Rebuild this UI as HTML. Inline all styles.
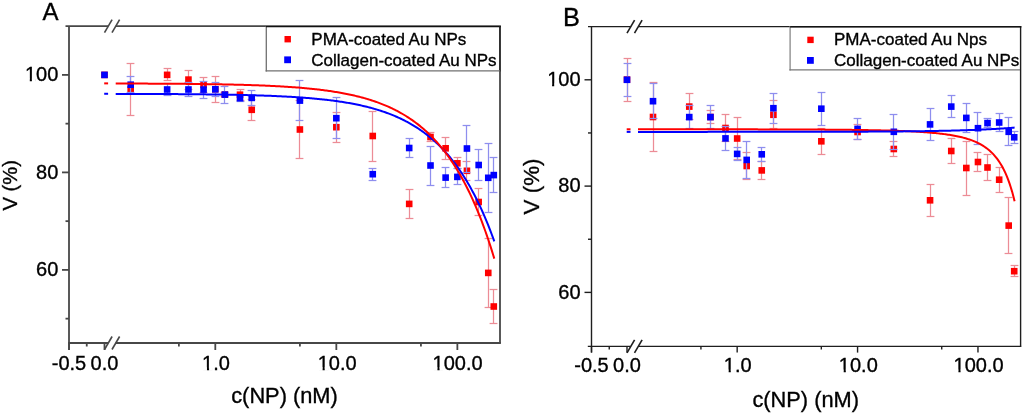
<!DOCTYPE html>
<html><head><meta charset="utf-8"><style>
html,body{margin:0;padding:0;background:#fff;overflow:hidden;width:1024px;height:414px;}
svg{display:block;}
text{font-family:"Liberation Sans",sans-serif;fill:#000;stroke:#000;stroke-width:0.35px;}
.gt{filter:grayscale(1);}
</style></head><body>
<svg width="1024" height="414" viewBox="0 0 1024 414">
<rect width="1024" height="414" fill="#fff"/>
<g font-family="Liberation Sans, sans-serif" fill="#000">
<line x1="65.50" y1="26.10" x2="108.10" y2="26.10" stroke="#474747" stroke-width="1.8" stroke-linecap="butt"/>
<line x1="115.70" y1="26.10" x2="500.90" y2="26.10" stroke="#474747" stroke-width="1.8" stroke-linecap="butt"/>
<line x1="68.10" y1="343.00" x2="108.10" y2="343.00" stroke="#474747" stroke-width="1.8" stroke-linecap="butt"/>
<line x1="115.70" y1="343.00" x2="500.90" y2="343.00" stroke="#474747" stroke-width="1.8" stroke-linecap="butt"/>
<line x1="69.00" y1="26.10" x2="69.00" y2="350.00" stroke="#474747" stroke-width="1.8" stroke-linecap="butt"/>
<line x1="500.00" y1="26.10" x2="500.00" y2="343.00" stroke="#474747" stroke-width="1.8" stroke-linecap="butt"/>
<line x1="62.00" y1="269.90" x2="69.00" y2="269.90" stroke="#474747" stroke-width="1.8" stroke-linecap="butt"/>
<line x1="62.00" y1="172.40" x2="69.00" y2="172.40" stroke="#474747" stroke-width="1.8" stroke-linecap="butt"/>
<line x1="62.00" y1="74.90" x2="69.00" y2="74.90" stroke="#474747" stroke-width="1.8" stroke-linecap="butt"/>
<line x1="65.50" y1="318.65" x2="69.00" y2="318.65" stroke="#474747" stroke-width="1.8" stroke-linecap="butt"/>
<line x1="65.50" y1="221.15" x2="69.00" y2="221.15" stroke="#474747" stroke-width="1.8" stroke-linecap="butt"/>
<line x1="65.50" y1="123.65" x2="69.00" y2="123.65" stroke="#474747" stroke-width="1.8" stroke-linecap="butt"/>
<line x1="69.00" y1="343.00" x2="69.00" y2="350.00" stroke="#474747" stroke-width="1.8" stroke-linecap="butt"/>
<line x1="104.50" y1="343.00" x2="104.50" y2="350.00" stroke="#474747" stroke-width="1.8" stroke-linecap="butt"/>
<line x1="215.30" y1="343.00" x2="215.30" y2="350.00" stroke="#474747" stroke-width="1.8" stroke-linecap="butt"/>
<line x1="336.33" y1="343.00" x2="336.33" y2="350.00" stroke="#474747" stroke-width="1.8" stroke-linecap="butt"/>
<line x1="457.36" y1="343.00" x2="457.36" y2="350.00" stroke="#474747" stroke-width="1.8" stroke-linecap="butt"/>
<line x1="86.75" y1="343.00" x2="86.75" y2="346.50" stroke="#474747" stroke-width="1.8" stroke-linecap="butt"/>
<line x1="178.87" y1="343.00" x2="178.87" y2="346.50" stroke="#474747" stroke-width="1.8" stroke-linecap="butt"/>
<line x1="299.90" y1="343.00" x2="299.90" y2="346.50" stroke="#474747" stroke-width="1.8" stroke-linecap="butt"/>
<line x1="420.93" y1="343.00" x2="420.93" y2="346.50" stroke="#474747" stroke-width="1.8" stroke-linecap="butt"/>
<line x1="104.50" y1="32.60" x2="112.10" y2="19.60" stroke="#474747" stroke-width="1.6" stroke-linecap="butt"/>
<line x1="112.00" y1="32.60" x2="119.60" y2="19.60" stroke="#474747" stroke-width="1.6" stroke-linecap="butt"/>
<line x1="104.50" y1="349.50" x2="112.10" y2="336.50" stroke="#474747" stroke-width="1.6" stroke-linecap="butt"/>
<line x1="112.00" y1="349.50" x2="119.60" y2="336.50" stroke="#474747" stroke-width="1.6" stroke-linecap="butt"/>
<line x1="130.50" y1="63.50" x2="130.50" y2="115.50" stroke="#ec8c96" stroke-width="1.25" stroke-linecap="butt"/>
<line x1="126.60" y1="63.50" x2="134.40" y2="63.50" stroke="#ec8c96" stroke-width="1.25" stroke-linecap="butt"/>
<line x1="126.60" y1="115.50" x2="134.40" y2="115.50" stroke="#ec8c96" stroke-width="1.25" stroke-linecap="butt"/>
<line x1="167.50" y1="68.50" x2="167.50" y2="80.50" stroke="#ec8c96" stroke-width="1.25" stroke-linecap="butt"/>
<line x1="163.60" y1="68.50" x2="171.40" y2="68.50" stroke="#ec8c96" stroke-width="1.25" stroke-linecap="butt"/>
<line x1="163.60" y1="80.50" x2="171.40" y2="80.50" stroke="#ec8c96" stroke-width="1.25" stroke-linecap="butt"/>
<line x1="188.50" y1="70.50" x2="188.50" y2="89.50" stroke="#ec8c96" stroke-width="1.25" stroke-linecap="butt"/>
<line x1="184.60" y1="70.50" x2="192.40" y2="70.50" stroke="#ec8c96" stroke-width="1.25" stroke-linecap="butt"/>
<line x1="184.60" y1="89.50" x2="192.40" y2="89.50" stroke="#ec8c96" stroke-width="1.25" stroke-linecap="butt"/>
<line x1="203.50" y1="77.50" x2="203.50" y2="92.50" stroke="#ec8c96" stroke-width="1.25" stroke-linecap="butt"/>
<line x1="199.60" y1="77.50" x2="207.40" y2="77.50" stroke="#ec8c96" stroke-width="1.25" stroke-linecap="butt"/>
<line x1="199.60" y1="92.50" x2="207.40" y2="92.50" stroke="#ec8c96" stroke-width="1.25" stroke-linecap="butt"/>
<line x1="215.50" y1="76.50" x2="215.50" y2="102.50" stroke="#ec8c96" stroke-width="1.25" stroke-linecap="butt"/>
<line x1="211.60" y1="76.50" x2="219.40" y2="76.50" stroke="#ec8c96" stroke-width="1.25" stroke-linecap="butt"/>
<line x1="211.60" y1="102.50" x2="219.40" y2="102.50" stroke="#ec8c96" stroke-width="1.25" stroke-linecap="butt"/>
<line x1="224.50" y1="92.50" x2="224.50" y2="96.50" stroke="#ec8c96" stroke-width="1.25" stroke-linecap="butt"/>
<line x1="220.60" y1="92.50" x2="228.40" y2="92.50" stroke="#ec8c96" stroke-width="1.25" stroke-linecap="butt"/>
<line x1="220.60" y1="96.50" x2="228.40" y2="96.50" stroke="#ec8c96" stroke-width="1.25" stroke-linecap="butt"/>
<line x1="240.50" y1="89.50" x2="240.50" y2="100.50" stroke="#ec8c96" stroke-width="1.25" stroke-linecap="butt"/>
<line x1="236.60" y1="89.50" x2="244.40" y2="89.50" stroke="#ec8c96" stroke-width="1.25" stroke-linecap="butt"/>
<line x1="236.60" y1="100.50" x2="244.40" y2="100.50" stroke="#ec8c96" stroke-width="1.25" stroke-linecap="butt"/>
<line x1="251.50" y1="99.50" x2="251.50" y2="120.50" stroke="#ec8c96" stroke-width="1.25" stroke-linecap="butt"/>
<line x1="247.60" y1="99.50" x2="255.40" y2="99.50" stroke="#ec8c96" stroke-width="1.25" stroke-linecap="butt"/>
<line x1="247.60" y1="120.50" x2="255.40" y2="120.50" stroke="#ec8c96" stroke-width="1.25" stroke-linecap="butt"/>
<line x1="299.50" y1="100.50" x2="299.50" y2="158.50" stroke="#ec8c96" stroke-width="1.25" stroke-linecap="butt"/>
<line x1="295.60" y1="100.50" x2="303.40" y2="100.50" stroke="#ec8c96" stroke-width="1.25" stroke-linecap="butt"/>
<line x1="295.60" y1="158.50" x2="303.40" y2="158.50" stroke="#ec8c96" stroke-width="1.25" stroke-linecap="butt"/>
<line x1="336.50" y1="112.50" x2="336.50" y2="142.50" stroke="#ec8c96" stroke-width="1.25" stroke-linecap="butt"/>
<line x1="332.60" y1="112.50" x2="340.40" y2="112.50" stroke="#ec8c96" stroke-width="1.25" stroke-linecap="butt"/>
<line x1="332.60" y1="142.50" x2="340.40" y2="142.50" stroke="#ec8c96" stroke-width="1.25" stroke-linecap="butt"/>
<line x1="372.50" y1="111.50" x2="372.50" y2="161.50" stroke="#ec8c96" stroke-width="1.25" stroke-linecap="butt"/>
<line x1="368.60" y1="111.50" x2="376.40" y2="111.50" stroke="#ec8c96" stroke-width="1.25" stroke-linecap="butt"/>
<line x1="368.60" y1="161.50" x2="376.40" y2="161.50" stroke="#ec8c96" stroke-width="1.25" stroke-linecap="butt"/>
<line x1="409.50" y1="189.50" x2="409.50" y2="218.50" stroke="#ec8c96" stroke-width="1.25" stroke-linecap="butt"/>
<line x1="405.60" y1="189.50" x2="413.40" y2="189.50" stroke="#ec8c96" stroke-width="1.25" stroke-linecap="butt"/>
<line x1="405.60" y1="218.50" x2="413.40" y2="218.50" stroke="#ec8c96" stroke-width="1.25" stroke-linecap="butt"/>
<line x1="430.50" y1="132.50" x2="430.50" y2="141.50" stroke="#ec8c96" stroke-width="1.25" stroke-linecap="butt"/>
<line x1="426.60" y1="132.50" x2="434.40" y2="132.50" stroke="#ec8c96" stroke-width="1.25" stroke-linecap="butt"/>
<line x1="426.60" y1="141.50" x2="434.40" y2="141.50" stroke="#ec8c96" stroke-width="1.25" stroke-linecap="butt"/>
<line x1="445.50" y1="137.50" x2="445.50" y2="159.50" stroke="#ec8c96" stroke-width="1.25" stroke-linecap="butt"/>
<line x1="441.60" y1="137.50" x2="449.40" y2="137.50" stroke="#ec8c96" stroke-width="1.25" stroke-linecap="butt"/>
<line x1="441.60" y1="159.50" x2="449.40" y2="159.50" stroke="#ec8c96" stroke-width="1.25" stroke-linecap="butt"/>
<line x1="457.50" y1="157.50" x2="457.50" y2="168.50" stroke="#ec8c96" stroke-width="1.25" stroke-linecap="butt"/>
<line x1="453.60" y1="157.50" x2="461.40" y2="157.50" stroke="#ec8c96" stroke-width="1.25" stroke-linecap="butt"/>
<line x1="453.60" y1="168.50" x2="461.40" y2="168.50" stroke="#ec8c96" stroke-width="1.25" stroke-linecap="butt"/>
<line x1="466.50" y1="161.50" x2="466.50" y2="180.50" stroke="#ec8c96" stroke-width="1.25" stroke-linecap="butt"/>
<line x1="462.60" y1="161.50" x2="470.40" y2="161.50" stroke="#ec8c96" stroke-width="1.25" stroke-linecap="butt"/>
<line x1="462.60" y1="180.50" x2="470.40" y2="180.50" stroke="#ec8c96" stroke-width="1.25" stroke-linecap="butt"/>
<line x1="478.50" y1="188.50" x2="478.50" y2="215.50" stroke="#ec8c96" stroke-width="1.25" stroke-linecap="butt"/>
<line x1="474.60" y1="188.50" x2="482.40" y2="188.50" stroke="#ec8c96" stroke-width="1.25" stroke-linecap="butt"/>
<line x1="474.60" y1="215.50" x2="482.40" y2="215.50" stroke="#ec8c96" stroke-width="1.25" stroke-linecap="butt"/>
<line x1="488.50" y1="238.50" x2="488.50" y2="307.50" stroke="#ec8c96" stroke-width="1.25" stroke-linecap="butt"/>
<line x1="484.60" y1="238.50" x2="492.40" y2="238.50" stroke="#ec8c96" stroke-width="1.25" stroke-linecap="butt"/>
<line x1="484.60" y1="307.50" x2="492.40" y2="307.50" stroke="#ec8c96" stroke-width="1.25" stroke-linecap="butt"/>
<line x1="493.50" y1="289.50" x2="493.50" y2="323.50" stroke="#ec8c96" stroke-width="1.25" stroke-linecap="butt"/>
<line x1="489.60" y1="289.50" x2="497.40" y2="289.50" stroke="#ec8c96" stroke-width="1.25" stroke-linecap="butt"/>
<line x1="489.60" y1="323.50" x2="497.40" y2="323.50" stroke="#ec8c96" stroke-width="1.25" stroke-linecap="butt"/>
<rect x="101.20" y="71.60" width="6.60" height="6.60" fill="#ff0000"/>
<rect x="127.40" y="86.10" width="6.60" height="6.60" fill="#ff0000"/>
<rect x="163.84" y="71.55" width="6.60" height="6.60" fill="#ff0000"/>
<rect x="185.15" y="76.30" width="6.60" height="6.60" fill="#ff0000"/>
<rect x="200.27" y="81.50" width="6.60" height="6.60" fill="#ff0000"/>
<rect x="212.00" y="86.00" width="6.60" height="6.60" fill="#ff0000"/>
<rect x="221.58" y="91.30" width="6.60" height="6.60" fill="#ff0000"/>
<rect x="236.70" y="91.40" width="6.60" height="6.60" fill="#ff0000"/>
<rect x="248.43" y="106.50" width="6.60" height="6.60" fill="#ff0000"/>
<rect x="296.60" y="126.20" width="6.60" height="6.60" fill="#ff0000"/>
<rect x="333.03" y="123.90" width="6.60" height="6.60" fill="#ff0000"/>
<rect x="369.46" y="132.70" width="6.60" height="6.60" fill="#ff0000"/>
<rect x="405.90" y="200.60" width="6.60" height="6.60" fill="#ff0000"/>
<rect x="427.21" y="133.70" width="6.60" height="6.60" fill="#ff0000"/>
<rect x="442.33" y="145.00" width="6.60" height="6.60" fill="#ff0000"/>
<rect x="454.06" y="160.00" width="6.60" height="6.60" fill="#ff0000"/>
<rect x="463.64" y="167.50" width="6.60" height="6.60" fill="#ff0000"/>
<rect x="475.37" y="198.70" width="6.60" height="6.60" fill="#ff0000"/>
<rect x="484.96" y="269.60" width="6.60" height="6.60" fill="#ff0000"/>
<rect x="490.49" y="303.20" width="6.60" height="6.60" fill="#ff0000"/>
<line x1="130.50" y1="76.50" x2="130.50" y2="92.50" stroke="#8e8eee" stroke-width="1.25" stroke-linecap="butt"/>
<line x1="126.60" y1="76.50" x2="134.40" y2="76.50" stroke="#8e8eee" stroke-width="1.25" stroke-linecap="butt"/>
<line x1="126.60" y1="92.50" x2="134.40" y2="92.50" stroke="#8e8eee" stroke-width="1.25" stroke-linecap="butt"/>
<line x1="167.50" y1="83.50" x2="167.50" y2="95.50" stroke="#8e8eee" stroke-width="1.25" stroke-linecap="butt"/>
<line x1="163.60" y1="83.50" x2="171.40" y2="83.50" stroke="#8e8eee" stroke-width="1.25" stroke-linecap="butt"/>
<line x1="163.60" y1="95.50" x2="171.40" y2="95.50" stroke="#8e8eee" stroke-width="1.25" stroke-linecap="butt"/>
<line x1="188.50" y1="82.50" x2="188.50" y2="96.50" stroke="#8e8eee" stroke-width="1.25" stroke-linecap="butt"/>
<line x1="184.60" y1="82.50" x2="192.40" y2="82.50" stroke="#8e8eee" stroke-width="1.25" stroke-linecap="butt"/>
<line x1="184.60" y1="96.50" x2="192.40" y2="96.50" stroke="#8e8eee" stroke-width="1.25" stroke-linecap="butt"/>
<line x1="203.50" y1="81.50" x2="203.50" y2="98.50" stroke="#8e8eee" stroke-width="1.25" stroke-linecap="butt"/>
<line x1="199.60" y1="81.50" x2="207.40" y2="81.50" stroke="#8e8eee" stroke-width="1.25" stroke-linecap="butt"/>
<line x1="199.60" y1="98.50" x2="207.40" y2="98.50" stroke="#8e8eee" stroke-width="1.25" stroke-linecap="butt"/>
<line x1="215.50" y1="82.50" x2="215.50" y2="96.50" stroke="#8e8eee" stroke-width="1.25" stroke-linecap="butt"/>
<line x1="211.60" y1="82.50" x2="219.40" y2="82.50" stroke="#8e8eee" stroke-width="1.25" stroke-linecap="butt"/>
<line x1="211.60" y1="96.50" x2="219.40" y2="96.50" stroke="#8e8eee" stroke-width="1.25" stroke-linecap="butt"/>
<line x1="224.50" y1="86.50" x2="224.50" y2="103.50" stroke="#8e8eee" stroke-width="1.25" stroke-linecap="butt"/>
<line x1="220.60" y1="86.50" x2="228.40" y2="86.50" stroke="#8e8eee" stroke-width="1.25" stroke-linecap="butt"/>
<line x1="220.60" y1="103.50" x2="228.40" y2="103.50" stroke="#8e8eee" stroke-width="1.25" stroke-linecap="butt"/>
<line x1="240.50" y1="95.50" x2="240.50" y2="101.50" stroke="#8e8eee" stroke-width="1.25" stroke-linecap="butt"/>
<line x1="236.60" y1="95.50" x2="244.40" y2="95.50" stroke="#8e8eee" stroke-width="1.25" stroke-linecap="butt"/>
<line x1="236.60" y1="101.50" x2="244.40" y2="101.50" stroke="#8e8eee" stroke-width="1.25" stroke-linecap="butt"/>
<line x1="251.50" y1="90.50" x2="251.50" y2="105.50" stroke="#8e8eee" stroke-width="1.25" stroke-linecap="butt"/>
<line x1="247.60" y1="90.50" x2="255.40" y2="90.50" stroke="#8e8eee" stroke-width="1.25" stroke-linecap="butt"/>
<line x1="247.60" y1="105.50" x2="255.40" y2="105.50" stroke="#8e8eee" stroke-width="1.25" stroke-linecap="butt"/>
<line x1="299.50" y1="80.50" x2="299.50" y2="120.50" stroke="#8e8eee" stroke-width="1.25" stroke-linecap="butt"/>
<line x1="295.60" y1="80.50" x2="303.40" y2="80.50" stroke="#8e8eee" stroke-width="1.25" stroke-linecap="butt"/>
<line x1="295.60" y1="120.50" x2="303.40" y2="120.50" stroke="#8e8eee" stroke-width="1.25" stroke-linecap="butt"/>
<line x1="336.50" y1="97.50" x2="336.50" y2="138.50" stroke="#8e8eee" stroke-width="1.25" stroke-linecap="butt"/>
<line x1="332.60" y1="97.50" x2="340.40" y2="97.50" stroke="#8e8eee" stroke-width="1.25" stroke-linecap="butt"/>
<line x1="332.60" y1="138.50" x2="340.40" y2="138.50" stroke="#8e8eee" stroke-width="1.25" stroke-linecap="butt"/>
<line x1="372.50" y1="168.50" x2="372.50" y2="180.50" stroke="#8e8eee" stroke-width="1.25" stroke-linecap="butt"/>
<line x1="368.60" y1="168.50" x2="376.40" y2="168.50" stroke="#8e8eee" stroke-width="1.25" stroke-linecap="butt"/>
<line x1="368.60" y1="180.50" x2="376.40" y2="180.50" stroke="#8e8eee" stroke-width="1.25" stroke-linecap="butt"/>
<line x1="409.50" y1="138.50" x2="409.50" y2="157.50" stroke="#8e8eee" stroke-width="1.25" stroke-linecap="butt"/>
<line x1="405.60" y1="138.50" x2="413.40" y2="138.50" stroke="#8e8eee" stroke-width="1.25" stroke-linecap="butt"/>
<line x1="405.60" y1="157.50" x2="413.40" y2="157.50" stroke="#8e8eee" stroke-width="1.25" stroke-linecap="butt"/>
<line x1="430.50" y1="146.50" x2="430.50" y2="185.50" stroke="#8e8eee" stroke-width="1.25" stroke-linecap="butt"/>
<line x1="426.60" y1="146.50" x2="434.40" y2="146.50" stroke="#8e8eee" stroke-width="1.25" stroke-linecap="butt"/>
<line x1="426.60" y1="185.50" x2="434.40" y2="185.50" stroke="#8e8eee" stroke-width="1.25" stroke-linecap="butt"/>
<line x1="445.50" y1="167.50" x2="445.50" y2="187.50" stroke="#8e8eee" stroke-width="1.25" stroke-linecap="butt"/>
<line x1="441.60" y1="167.50" x2="449.40" y2="167.50" stroke="#8e8eee" stroke-width="1.25" stroke-linecap="butt"/>
<line x1="441.60" y1="187.50" x2="449.40" y2="187.50" stroke="#8e8eee" stroke-width="1.25" stroke-linecap="butt"/>
<line x1="457.50" y1="168.50" x2="457.50" y2="184.50" stroke="#8e8eee" stroke-width="1.25" stroke-linecap="butt"/>
<line x1="453.60" y1="168.50" x2="461.40" y2="168.50" stroke="#8e8eee" stroke-width="1.25" stroke-linecap="butt"/>
<line x1="453.60" y1="184.50" x2="461.40" y2="184.50" stroke="#8e8eee" stroke-width="1.25" stroke-linecap="butt"/>
<line x1="466.50" y1="125.50" x2="466.50" y2="172.50" stroke="#8e8eee" stroke-width="1.25" stroke-linecap="butt"/>
<line x1="462.60" y1="125.50" x2="470.40" y2="125.50" stroke="#8e8eee" stroke-width="1.25" stroke-linecap="butt"/>
<line x1="462.60" y1="172.50" x2="470.40" y2="172.50" stroke="#8e8eee" stroke-width="1.25" stroke-linecap="butt"/>
<line x1="478.50" y1="149.50" x2="478.50" y2="180.50" stroke="#8e8eee" stroke-width="1.25" stroke-linecap="butt"/>
<line x1="474.60" y1="149.50" x2="482.40" y2="149.50" stroke="#8e8eee" stroke-width="1.25" stroke-linecap="butt"/>
<line x1="474.60" y1="180.50" x2="482.40" y2="180.50" stroke="#8e8eee" stroke-width="1.25" stroke-linecap="butt"/>
<line x1="488.50" y1="143.50" x2="488.50" y2="212.50" stroke="#8e8eee" stroke-width="1.25" stroke-linecap="butt"/>
<line x1="484.60" y1="143.50" x2="492.40" y2="143.50" stroke="#8e8eee" stroke-width="1.25" stroke-linecap="butt"/>
<line x1="484.60" y1="212.50" x2="492.40" y2="212.50" stroke="#8e8eee" stroke-width="1.25" stroke-linecap="butt"/>
<line x1="493.50" y1="157.50" x2="493.50" y2="192.50" stroke="#8e8eee" stroke-width="1.25" stroke-linecap="butt"/>
<line x1="489.60" y1="157.50" x2="497.40" y2="157.50" stroke="#8e8eee" stroke-width="1.25" stroke-linecap="butt"/>
<line x1="489.60" y1="192.50" x2="497.40" y2="192.50" stroke="#8e8eee" stroke-width="1.25" stroke-linecap="butt"/>
<rect x="101.20" y="71.60" width="6.60" height="6.60" fill="#0000ff"/>
<rect x="127.40" y="81.40" width="6.60" height="6.60" fill="#0000ff"/>
<rect x="163.84" y="86.20" width="6.60" height="6.60" fill="#0000ff"/>
<rect x="185.15" y="86.20" width="6.60" height="6.60" fill="#0000ff"/>
<rect x="200.27" y="86.30" width="6.60" height="6.60" fill="#0000ff"/>
<rect x="212.00" y="86.00" width="6.60" height="6.60" fill="#0000ff"/>
<rect x="221.58" y="91.30" width="6.60" height="6.60" fill="#0000ff"/>
<rect x="236.70" y="94.90" width="6.60" height="6.60" fill="#0000ff"/>
<rect x="248.43" y="94.60" width="6.60" height="6.60" fill="#0000ff"/>
<rect x="296.60" y="97.30" width="6.60" height="6.60" fill="#0000ff"/>
<rect x="333.03" y="114.90" width="6.60" height="6.60" fill="#0000ff"/>
<rect x="369.46" y="170.90" width="6.60" height="6.60" fill="#0000ff"/>
<rect x="405.90" y="144.70" width="6.60" height="6.60" fill="#0000ff"/>
<rect x="427.21" y="162.20" width="6.60" height="6.60" fill="#0000ff"/>
<rect x="442.33" y="174.30" width="6.60" height="6.60" fill="#0000ff"/>
<rect x="454.06" y="173.60" width="6.60" height="6.60" fill="#0000ff"/>
<rect x="463.64" y="145.20" width="6.60" height="6.60" fill="#0000ff"/>
<rect x="475.37" y="161.70" width="6.60" height="6.60" fill="#0000ff"/>
<rect x="484.96" y="174.50" width="6.60" height="6.60" fill="#0000ff"/>
<rect x="490.49" y="171.80" width="6.60" height="6.60" fill="#0000ff"/>
<line x1="104.20" y1="93.77" x2="108.10" y2="93.77" stroke="#0000ff" stroke-width="2" stroke-linecap="butt"/>
<polyline points="115.70,93.88 116.96,93.88 118.22,93.88 119.49,93.88 120.75,93.89 122.01,93.89 123.27,93.89 124.53,93.90 125.80,93.90 127.06,93.90 128.32,93.91 129.58,93.91 130.84,93.91 132.11,93.92 133.37,93.92 134.63,93.92 135.89,93.93 137.15,93.93 138.42,93.94 139.68,93.94 140.94,93.94 142.20,93.95 143.46,93.95 144.73,93.96 145.99,93.96 147.25,93.97 148.51,93.97 149.77,93.98 151.04,93.98 152.30,93.99 153.56,93.99 154.82,94.00 156.08,94.00 157.35,94.01 158.61,94.01 159.87,94.02 161.13,94.03 162.39,94.03 163.66,94.04 164.92,94.05 166.18,94.05 167.44,94.06 168.70,94.07 169.97,94.07 171.23,94.08 172.49,94.09 173.75,94.10 175.01,94.11 176.28,94.11 177.54,94.12 178.80,94.13 180.06,94.14 181.32,94.15 182.59,94.16 183.85,94.17 185.11,94.18 186.37,94.19 187.63,94.20 188.90,94.21 190.16,94.22 191.42,94.23 192.68,94.24 193.94,94.25 195.21,94.27 196.47,94.28 197.73,94.29 198.99,94.30 200.25,94.32 201.52,94.33 202.78,94.34 204.04,94.36 205.30,94.37 206.56,94.39 207.83,94.40 209.09,94.42 210.35,94.43 211.61,94.45 212.87,94.46 214.14,94.48 215.40,94.50 216.66,94.52 217.92,94.53 219.18,94.55 220.45,94.57 221.71,94.59 222.97,94.61 224.23,94.63 225.49,94.65 226.76,94.68 228.02,94.70 229.28,94.72 230.54,94.74 231.80,94.77 233.07,94.79 234.33,94.82 235.59,94.84 236.85,94.87 238.11,94.89 239.38,94.92 240.64,94.95 241.90,94.98 243.16,95.01 244.42,95.04 245.69,95.07 246.95,95.10 248.21,95.13 249.47,95.17 250.73,95.20 252.00,95.24 253.26,95.27 254.52,95.31 255.78,95.35 257.04,95.38 258.31,95.42 259.57,95.46 260.83,95.51 262.09,95.55 263.35,95.59 264.62,95.63 265.88,95.68 267.14,95.73 268.40,95.77 269.66,95.82 270.93,95.87 272.19,95.92 273.45,95.98 274.71,96.03 275.97,96.09 277.24,96.14 278.50,96.20 279.76,96.26 281.02,96.32 282.28,96.38 283.55,96.45 284.81,96.51 286.07,96.58 287.33,96.65 288.59,96.72 289.86,96.79 291.12,96.86 292.38,96.94 293.64,97.01 294.90,97.09 296.17,97.17 297.43,97.25 298.69,97.34 299.95,97.43 301.21,97.52 302.48,97.61 303.74,97.70 305.00,97.80 306.26,97.89 307.52,97.99 308.79,98.10 310.05,98.20 311.31,98.31 312.57,98.42 313.83,98.53 315.10,98.65 316.36,98.77 317.62,98.89 318.88,99.01 320.14,99.14 321.41,99.27 322.67,99.41 323.93,99.54 325.19,99.68 326.45,99.83 327.72,99.97 328.98,100.12 330.24,100.28 331.50,100.44 332.76,100.60 334.03,100.77 335.29,100.94 336.55,101.11 337.81,101.29 339.07,101.47 340.34,101.66 341.60,101.85 342.86,102.05 344.12,102.25 345.38,102.45 346.65,102.66 347.91,102.88 349.17,103.10 350.43,103.33 351.69,103.56 352.96,103.80 354.22,104.04 355.48,104.29 356.74,104.55 358.00,104.81 359.27,105.08 360.53,105.35 361.79,105.64 363.05,105.92 364.31,106.22 365.58,106.52 366.84,106.83 368.10,107.15 369.36,107.47 370.62,107.81 371.89,108.15 373.15,108.50 374.41,108.86 375.67,109.22 376.93,109.60 378.20,109.98 379.46,110.38 380.72,110.78 381.98,111.19 383.24,111.62 384.51,112.05 385.77,112.50 387.03,112.95 388.29,113.42 389.55,113.90 390.82,114.38 392.08,114.89 393.34,115.40 394.60,115.92 395.86,116.46 397.13,117.01 398.39,117.58 399.65,118.16 400.91,118.75 402.17,119.36 403.44,119.98 404.70,120.62 405.96,121.27 407.22,121.94 408.48,122.62 409.75,123.32 411.01,124.04 412.27,124.78 413.53,125.53 414.79,126.30 416.06,127.09 417.32,127.90 418.58,128.73 419.84,129.58 421.10,130.45 422.37,131.34 423.63,132.26 424.89,133.19 426.15,134.15 427.41,135.13 428.68,136.14 429.94,137.17 431.20,138.22 432.46,139.30 433.72,140.41 434.99,141.54 436.25,142.70 437.51,143.89 438.77,145.11 440.03,146.36 441.30,147.64 442.56,148.94 443.82,150.29 445.08,151.66 446.34,153.07 447.61,154.51 448.87,155.98 450.13,157.49 451.39,159.04 452.65,160.63 453.92,162.25 455.18,163.92 456.44,165.62 457.70,167.37 458.96,169.16 460.23,170.99 461.49,172.87 462.75,174.79 464.01,176.76 465.27,178.77 466.54,180.84 467.80,182.95 469.06,185.12 470.32,187.34 471.58,189.62 472.85,191.95 474.11,194.33 475.37,196.77 476.63,199.28 477.89,201.84 479.16,204.47 480.42,207.16 481.68,209.91 482.94,212.74 484.20,215.63 485.47,218.59 486.73,221.62 487.99,224.73 489.25,227.91 490.51,231.17 491.78,234.51 493.04,237.93 494.30,241.43" fill="none" stroke="#0000ff" stroke-width="2"/>
<line x1="104.20" y1="83.38" x2="108.10" y2="83.38" stroke="#ff0000" stroke-width="2" stroke-linecap="butt"/>
<polyline points="115.70,83.51 116.96,83.52 118.22,83.52 119.49,83.52 120.75,83.53 122.01,83.53 123.27,83.53 124.53,83.54 125.80,83.54 127.06,83.54 128.32,83.55 129.58,83.55 130.84,83.56 132.11,83.56 133.37,83.57 134.63,83.57 135.89,83.57 137.15,83.58 138.42,83.58 139.68,83.59 140.94,83.59 142.20,83.60 143.46,83.60 144.73,83.61 145.99,83.61 147.25,83.62 148.51,83.63 149.77,83.63 151.04,83.64 152.30,83.64 153.56,83.65 154.82,83.66 156.08,83.66 157.35,83.67 158.61,83.68 159.87,83.68 161.13,83.69 162.39,83.70 163.66,83.71 164.92,83.72 166.18,83.72 167.44,83.73 168.70,83.74 169.97,83.75 171.23,83.76 172.49,83.77 173.75,83.78 175.01,83.79 176.28,83.80 177.54,83.81 178.80,83.82 180.06,83.83 181.32,83.84 182.59,83.85 183.85,83.86 185.11,83.87 186.37,83.88 187.63,83.90 188.90,83.91 190.16,83.92 191.42,83.93 192.68,83.95 193.94,83.96 195.21,83.97 196.47,83.99 197.73,84.00 198.99,84.02 200.25,84.03 201.52,84.05 202.78,84.07 204.04,84.08 205.30,84.10 206.56,84.12 207.83,84.14 209.09,84.15 210.35,84.17 211.61,84.19 212.87,84.21 214.14,84.23 215.40,84.25 216.66,84.27 217.92,84.29 219.18,84.32 220.45,84.34 221.71,84.36 222.97,84.39 224.23,84.41 225.49,84.44 226.76,84.46 228.02,84.49 229.28,84.51 230.54,84.54 231.80,84.57 233.07,84.60 234.33,84.63 235.59,84.66 236.85,84.69 238.11,84.72 239.38,84.75 240.64,84.79 241.90,84.82 243.16,84.86 244.42,84.89 245.69,84.93 246.95,84.97 248.21,85.01 249.47,85.04 250.73,85.09 252.00,85.13 253.26,85.17 254.52,85.21 255.78,85.26 257.04,85.30 258.31,85.35 259.57,85.40 260.83,85.45 262.09,85.50 263.35,85.55 264.62,85.60 265.88,85.65 267.14,85.71 268.40,85.77 269.66,85.82 270.93,85.88 272.19,85.94 273.45,86.01 274.71,86.07 275.97,86.13 277.24,86.20 278.50,86.27 279.76,86.34 281.02,86.41 282.28,86.49 283.55,86.56 284.81,86.64 286.07,86.72 287.33,86.80 288.59,86.88 289.86,86.97 291.12,87.05 292.38,87.14 293.64,87.23 294.90,87.33 296.17,87.42 297.43,87.52 298.69,87.62 299.95,87.73 301.21,87.83 302.48,87.94 303.74,88.05 305.00,88.16 306.26,88.28 307.52,88.40 308.79,88.52 310.05,88.65 311.31,88.77 312.57,88.90 313.83,89.04 315.10,89.18 316.36,89.32 317.62,89.46 318.88,89.61 320.14,89.76 321.41,89.92 322.67,90.07 323.93,90.24 325.19,90.40 326.45,90.57 327.72,90.75 328.98,90.93 330.24,91.11 331.50,91.30 332.76,91.49 334.03,91.69 335.29,91.89 336.55,92.10 337.81,92.31 339.07,92.53 340.34,92.75 341.60,92.97 342.86,93.21 344.12,93.45 345.38,93.69 346.65,93.94 347.91,94.20 349.17,94.46 350.43,94.73 351.69,95.01 352.96,95.29 354.22,95.58 355.48,95.87 356.74,96.18 358.00,96.49 359.27,96.81 360.53,97.13 361.79,97.47 363.05,97.81 364.31,98.16 365.58,98.52 366.84,98.89 368.10,99.26 369.36,99.65 370.62,100.05 371.89,100.45 373.15,100.86 374.41,101.29 375.67,101.72 376.93,102.17 378.20,102.63 379.46,103.09 380.72,103.57 381.98,104.06 383.24,104.57 384.51,105.08 385.77,105.61 387.03,106.15 388.29,106.70 389.55,107.27 390.82,107.85 392.08,108.44 393.34,109.05 394.60,109.68 395.86,110.32 397.13,110.97 398.39,111.64 399.65,112.33 400.91,113.03 402.17,113.75 403.44,114.49 404.70,115.24 405.96,116.02 407.22,116.81 408.48,117.62 409.75,118.46 411.01,119.31 412.27,120.18 413.53,121.08 414.79,121.99 416.06,122.93 417.32,123.89 418.58,124.88 419.84,125.88 421.10,126.92 422.37,127.97 423.63,129.06 424.89,130.17 426.15,131.31 427.41,132.47 428.68,133.66 429.94,134.88 431.20,136.14 432.46,137.42 433.72,138.73 434.99,140.08 436.25,141.45 437.51,142.86 438.77,144.31 440.03,145.79 441.30,147.31 442.56,148.86 443.82,150.45 445.08,152.08 446.34,153.75 447.61,155.46 448.87,157.21 450.13,159.01 451.39,160.84 452.65,162.73 453.92,164.65 455.18,166.63 456.44,168.65 457.70,170.72 458.96,172.85 460.23,175.02 461.49,177.25 462.75,179.53 464.01,181.86 465.27,184.26 466.54,186.71 467.80,189.22 469.06,191.79 470.32,194.43 471.58,197.12 472.85,199.89 474.11,202.72 475.37,205.62 476.63,208.59 477.89,211.63 479.16,214.75 480.42,217.94 481.68,221.21 482.94,224.56 484.20,227.99 485.47,231.50 486.73,235.10 487.99,238.79 489.25,242.57 490.51,246.43 491.78,250.40 493.04,254.46 494.30,258.61" fill="none" stroke="#ff0000" stroke-width="2"/>
<line x1="588.00" y1="26.60" x2="630.50" y2="26.60" stroke="#1e1e1e" stroke-width="1.4" stroke-linecap="butt"/>
<line x1="638.00" y1="26.60" x2="1021.30" y2="26.60" stroke="#1e1e1e" stroke-width="1.4" stroke-linecap="butt"/>
<line x1="587.80" y1="346.40" x2="630.50" y2="346.40" stroke="#1e1e1e" stroke-width="1.4" stroke-linecap="butt"/>
<line x1="638.00" y1="346.40" x2="1021.30" y2="346.40" stroke="#1e1e1e" stroke-width="1.4" stroke-linecap="butt"/>
<line x1="591.50" y1="26.60" x2="591.50" y2="352.60" stroke="#1e1e1e" stroke-width="1.4" stroke-linecap="butt"/>
<line x1="1020.60" y1="26.60" x2="1020.60" y2="346.40" stroke="#1e1e1e" stroke-width="1.4" stroke-linecap="butt"/>
<line x1="584.50" y1="292.40" x2="591.50" y2="292.40" stroke="#1e1e1e" stroke-width="1.4" stroke-linecap="butt"/>
<line x1="584.50" y1="186.10" x2="591.50" y2="186.10" stroke="#1e1e1e" stroke-width="1.4" stroke-linecap="butt"/>
<line x1="584.50" y1="79.80" x2="591.50" y2="79.80" stroke="#1e1e1e" stroke-width="1.4" stroke-linecap="butt"/>
<line x1="588.00" y1="239.25" x2="591.50" y2="239.25" stroke="#1e1e1e" stroke-width="1.4" stroke-linecap="butt"/>
<line x1="588.00" y1="132.95" x2="591.50" y2="132.95" stroke="#1e1e1e" stroke-width="1.4" stroke-linecap="butt"/>
<line x1="591.50" y1="346.40" x2="591.50" y2="352.60" stroke="#1e1e1e" stroke-width="1.4" stroke-linecap="butt"/>
<line x1="627.00" y1="346.40" x2="627.00" y2="352.60" stroke="#1e1e1e" stroke-width="1.4" stroke-linecap="butt"/>
<line x1="737.17" y1="346.40" x2="737.17" y2="352.60" stroke="#1e1e1e" stroke-width="1.4" stroke-linecap="butt"/>
<line x1="857.57" y1="346.40" x2="857.57" y2="352.60" stroke="#1e1e1e" stroke-width="1.4" stroke-linecap="butt"/>
<line x1="977.97" y1="346.40" x2="977.97" y2="352.60" stroke="#1e1e1e" stroke-width="1.4" stroke-linecap="butt"/>
<line x1="609.25" y1="346.40" x2="609.25" y2="349.50" stroke="#1e1e1e" stroke-width="1.4" stroke-linecap="butt"/>
<line x1="700.93" y1="346.40" x2="700.93" y2="349.50" stroke="#1e1e1e" stroke-width="1.4" stroke-linecap="butt"/>
<line x1="821.33" y1="346.40" x2="821.33" y2="349.50" stroke="#1e1e1e" stroke-width="1.4" stroke-linecap="butt"/>
<line x1="941.73" y1="346.40" x2="941.73" y2="349.50" stroke="#1e1e1e" stroke-width="1.4" stroke-linecap="butt"/>
<line x1="627.00" y1="33.10" x2="634.60" y2="20.10" stroke="#1e1e1e" stroke-width="1.6" stroke-linecap="butt"/>
<line x1="634.50" y1="33.10" x2="642.10" y2="20.10" stroke="#1e1e1e" stroke-width="1.6" stroke-linecap="butt"/>
<line x1="627.00" y1="352.90" x2="634.60" y2="339.90" stroke="#1e1e1e" stroke-width="1.6" stroke-linecap="butt"/>
<line x1="634.50" y1="352.90" x2="642.10" y2="339.90" stroke="#1e1e1e" stroke-width="1.6" stroke-linecap="butt"/>
<line x1="627.50" y1="58.50" x2="627.50" y2="101.50" stroke="#ec8c96" stroke-width="1.25" stroke-linecap="butt"/>
<line x1="623.60" y1="58.50" x2="631.40" y2="58.50" stroke="#ec8c96" stroke-width="1.25" stroke-linecap="butt"/>
<line x1="623.60" y1="101.50" x2="631.40" y2="101.50" stroke="#ec8c96" stroke-width="1.25" stroke-linecap="butt"/>
<line x1="653.50" y1="82.50" x2="653.50" y2="151.50" stroke="#ec8c96" stroke-width="1.25" stroke-linecap="butt"/>
<line x1="649.60" y1="82.50" x2="657.40" y2="82.50" stroke="#ec8c96" stroke-width="1.25" stroke-linecap="butt"/>
<line x1="649.60" y1="151.50" x2="657.40" y2="151.50" stroke="#ec8c96" stroke-width="1.25" stroke-linecap="butt"/>
<line x1="689.50" y1="93.50" x2="689.50" y2="119.50" stroke="#ec8c96" stroke-width="1.25" stroke-linecap="butt"/>
<line x1="685.60" y1="93.50" x2="693.40" y2="93.50" stroke="#ec8c96" stroke-width="1.25" stroke-linecap="butt"/>
<line x1="685.60" y1="119.50" x2="693.40" y2="119.50" stroke="#ec8c96" stroke-width="1.25" stroke-linecap="butt"/>
<line x1="710.50" y1="110.50" x2="710.50" y2="123.50" stroke="#ec8c96" stroke-width="1.25" stroke-linecap="butt"/>
<line x1="706.60" y1="110.50" x2="714.40" y2="110.50" stroke="#ec8c96" stroke-width="1.25" stroke-linecap="butt"/>
<line x1="706.60" y1="123.50" x2="714.40" y2="123.50" stroke="#ec8c96" stroke-width="1.25" stroke-linecap="butt"/>
<line x1="725.50" y1="114.50" x2="725.50" y2="141.50" stroke="#ec8c96" stroke-width="1.25" stroke-linecap="butt"/>
<line x1="721.60" y1="114.50" x2="729.40" y2="114.50" stroke="#ec8c96" stroke-width="1.25" stroke-linecap="butt"/>
<line x1="721.60" y1="141.50" x2="729.40" y2="141.50" stroke="#ec8c96" stroke-width="1.25" stroke-linecap="butt"/>
<line x1="737.50" y1="117.50" x2="737.50" y2="159.50" stroke="#ec8c96" stroke-width="1.25" stroke-linecap="butt"/>
<line x1="733.60" y1="117.50" x2="741.40" y2="117.50" stroke="#ec8c96" stroke-width="1.25" stroke-linecap="butt"/>
<line x1="733.60" y1="159.50" x2="741.40" y2="159.50" stroke="#ec8c96" stroke-width="1.25" stroke-linecap="butt"/>
<line x1="746.50" y1="152.50" x2="746.50" y2="179.50" stroke="#ec8c96" stroke-width="1.25" stroke-linecap="butt"/>
<line x1="742.60" y1="152.50" x2="750.40" y2="152.50" stroke="#ec8c96" stroke-width="1.25" stroke-linecap="butt"/>
<line x1="742.60" y1="179.50" x2="750.40" y2="179.50" stroke="#ec8c96" stroke-width="1.25" stroke-linecap="butt"/>
<line x1="761.50" y1="161.50" x2="761.50" y2="179.50" stroke="#ec8c96" stroke-width="1.25" stroke-linecap="butt"/>
<line x1="757.60" y1="161.50" x2="765.40" y2="161.50" stroke="#ec8c96" stroke-width="1.25" stroke-linecap="butt"/>
<line x1="757.60" y1="179.50" x2="765.40" y2="179.50" stroke="#ec8c96" stroke-width="1.25" stroke-linecap="butt"/>
<line x1="773.50" y1="100.50" x2="773.50" y2="128.50" stroke="#ec8c96" stroke-width="1.25" stroke-linecap="butt"/>
<line x1="769.60" y1="100.50" x2="777.40" y2="100.50" stroke="#ec8c96" stroke-width="1.25" stroke-linecap="butt"/>
<line x1="769.60" y1="128.50" x2="777.40" y2="128.50" stroke="#ec8c96" stroke-width="1.25" stroke-linecap="butt"/>
<line x1="821.50" y1="128.50" x2="821.50" y2="154.50" stroke="#ec8c96" stroke-width="1.25" stroke-linecap="butt"/>
<line x1="817.60" y1="128.50" x2="825.40" y2="128.50" stroke="#ec8c96" stroke-width="1.25" stroke-linecap="butt"/>
<line x1="817.60" y1="154.50" x2="825.40" y2="154.50" stroke="#ec8c96" stroke-width="1.25" stroke-linecap="butt"/>
<line x1="857.50" y1="124.50" x2="857.50" y2="139.50" stroke="#ec8c96" stroke-width="1.25" stroke-linecap="butt"/>
<line x1="853.60" y1="124.50" x2="861.40" y2="124.50" stroke="#ec8c96" stroke-width="1.25" stroke-linecap="butt"/>
<line x1="853.60" y1="139.50" x2="861.40" y2="139.50" stroke="#ec8c96" stroke-width="1.25" stroke-linecap="butt"/>
<line x1="893.50" y1="141.50" x2="893.50" y2="156.50" stroke="#ec8c96" stroke-width="1.25" stroke-linecap="butt"/>
<line x1="889.60" y1="141.50" x2="897.40" y2="141.50" stroke="#ec8c96" stroke-width="1.25" stroke-linecap="butt"/>
<line x1="889.60" y1="156.50" x2="897.40" y2="156.50" stroke="#ec8c96" stroke-width="1.25" stroke-linecap="butt"/>
<line x1="930.50" y1="184.50" x2="930.50" y2="216.50" stroke="#ec8c96" stroke-width="1.25" stroke-linecap="butt"/>
<line x1="926.60" y1="184.50" x2="934.40" y2="184.50" stroke="#ec8c96" stroke-width="1.25" stroke-linecap="butt"/>
<line x1="926.60" y1="216.50" x2="934.40" y2="216.50" stroke="#ec8c96" stroke-width="1.25" stroke-linecap="butt"/>
<line x1="951.50" y1="138.50" x2="951.50" y2="163.50" stroke="#ec8c96" stroke-width="1.25" stroke-linecap="butt"/>
<line x1="947.60" y1="138.50" x2="955.40" y2="138.50" stroke="#ec8c96" stroke-width="1.25" stroke-linecap="butt"/>
<line x1="947.60" y1="163.50" x2="955.40" y2="163.50" stroke="#ec8c96" stroke-width="1.25" stroke-linecap="butt"/>
<line x1="966.50" y1="141.50" x2="966.50" y2="195.50" stroke="#ec8c96" stroke-width="1.25" stroke-linecap="butt"/>
<line x1="962.60" y1="141.50" x2="970.40" y2="141.50" stroke="#ec8c96" stroke-width="1.25" stroke-linecap="butt"/>
<line x1="962.60" y1="195.50" x2="970.40" y2="195.50" stroke="#ec8c96" stroke-width="1.25" stroke-linecap="butt"/>
<line x1="977.50" y1="152.50" x2="977.50" y2="171.50" stroke="#ec8c96" stroke-width="1.25" stroke-linecap="butt"/>
<line x1="973.60" y1="152.50" x2="981.40" y2="152.50" stroke="#ec8c96" stroke-width="1.25" stroke-linecap="butt"/>
<line x1="973.60" y1="171.50" x2="981.40" y2="171.50" stroke="#ec8c96" stroke-width="1.25" stroke-linecap="butt"/>
<line x1="987.50" y1="154.50" x2="987.50" y2="180.50" stroke="#ec8c96" stroke-width="1.25" stroke-linecap="butt"/>
<line x1="983.60" y1="154.50" x2="991.40" y2="154.50" stroke="#ec8c96" stroke-width="1.25" stroke-linecap="butt"/>
<line x1="983.60" y1="180.50" x2="991.40" y2="180.50" stroke="#ec8c96" stroke-width="1.25" stroke-linecap="butt"/>
<line x1="999.50" y1="167.50" x2="999.50" y2="192.50" stroke="#ec8c96" stroke-width="1.25" stroke-linecap="butt"/>
<line x1="995.60" y1="167.50" x2="1003.40" y2="167.50" stroke="#ec8c96" stroke-width="1.25" stroke-linecap="butt"/>
<line x1="995.60" y1="192.50" x2="1003.40" y2="192.50" stroke="#ec8c96" stroke-width="1.25" stroke-linecap="butt"/>
<line x1="1008.50" y1="197.50" x2="1008.50" y2="253.50" stroke="#ec8c96" stroke-width="1.25" stroke-linecap="butt"/>
<line x1="1004.60" y1="197.50" x2="1012.40" y2="197.50" stroke="#ec8c96" stroke-width="1.25" stroke-linecap="butt"/>
<line x1="1004.60" y1="253.50" x2="1012.40" y2="253.50" stroke="#ec8c96" stroke-width="1.25" stroke-linecap="butt"/>
<line x1="1014.50" y1="265.50" x2="1014.50" y2="276.50" stroke="#ec8c96" stroke-width="1.25" stroke-linecap="butt"/>
<line x1="1010.60" y1="265.50" x2="1018.40" y2="265.50" stroke="#ec8c96" stroke-width="1.25" stroke-linecap="butt"/>
<line x1="1010.60" y1="276.50" x2="1018.40" y2="276.50" stroke="#ec8c96" stroke-width="1.25" stroke-linecap="butt"/>
<rect x="623.70" y="76.30" width="6.60" height="6.60" fill="#ff0000"/>
<rect x="649.71" y="113.70" width="6.60" height="6.60" fill="#ff0000"/>
<rect x="685.96" y="103.30" width="6.60" height="6.60" fill="#ff0000"/>
<rect x="707.16" y="113.70" width="6.60" height="6.60" fill="#ff0000"/>
<rect x="722.20" y="124.70" width="6.60" height="6.60" fill="#ff0000"/>
<rect x="733.87" y="135.20" width="6.60" height="6.60" fill="#ff0000"/>
<rect x="743.40" y="162.70" width="6.60" height="6.60" fill="#ff0000"/>
<rect x="758.45" y="167.10" width="6.60" height="6.60" fill="#ff0000"/>
<rect x="770.11" y="111.50" width="6.60" height="6.60" fill="#ff0000"/>
<rect x="818.03" y="138.00" width="6.60" height="6.60" fill="#ff0000"/>
<rect x="854.27" y="128.70" width="6.60" height="6.60" fill="#ff0000"/>
<rect x="890.51" y="145.70" width="6.60" height="6.60" fill="#ff0000"/>
<rect x="926.76" y="197.00" width="6.60" height="6.60" fill="#ff0000"/>
<rect x="947.96" y="147.70" width="6.60" height="6.60" fill="#ff0000"/>
<rect x="963.00" y="164.70" width="6.60" height="6.60" fill="#ff0000"/>
<rect x="974.67" y="158.70" width="6.60" height="6.60" fill="#ff0000"/>
<rect x="984.20" y="164.20" width="6.60" height="6.60" fill="#ff0000"/>
<rect x="995.87" y="176.40" width="6.60" height="6.60" fill="#ff0000"/>
<rect x="1005.40" y="222.30" width="6.60" height="6.60" fill="#ff0000"/>
<rect x="1010.91" y="267.90" width="6.60" height="6.60" fill="#ff0000"/>
<line x1="627.50" y1="63.50" x2="627.50" y2="96.50" stroke="#8e8eee" stroke-width="1.25" stroke-linecap="butt"/>
<line x1="623.60" y1="63.50" x2="631.40" y2="63.50" stroke="#8e8eee" stroke-width="1.25" stroke-linecap="butt"/>
<line x1="623.60" y1="96.50" x2="631.40" y2="96.50" stroke="#8e8eee" stroke-width="1.25" stroke-linecap="butt"/>
<line x1="653.50" y1="83.50" x2="653.50" y2="118.50" stroke="#8e8eee" stroke-width="1.25" stroke-linecap="butt"/>
<line x1="649.60" y1="83.50" x2="657.40" y2="83.50" stroke="#8e8eee" stroke-width="1.25" stroke-linecap="butt"/>
<line x1="649.60" y1="118.50" x2="657.40" y2="118.50" stroke="#8e8eee" stroke-width="1.25" stroke-linecap="butt"/>
<line x1="689.50" y1="105.50" x2="689.50" y2="128.50" stroke="#8e8eee" stroke-width="1.25" stroke-linecap="butt"/>
<line x1="685.60" y1="105.50" x2="693.40" y2="105.50" stroke="#8e8eee" stroke-width="1.25" stroke-linecap="butt"/>
<line x1="685.60" y1="128.50" x2="693.40" y2="128.50" stroke="#8e8eee" stroke-width="1.25" stroke-linecap="butt"/>
<line x1="710.50" y1="105.50" x2="710.50" y2="128.50" stroke="#8e8eee" stroke-width="1.25" stroke-linecap="butt"/>
<line x1="706.60" y1="105.50" x2="714.40" y2="105.50" stroke="#8e8eee" stroke-width="1.25" stroke-linecap="butt"/>
<line x1="706.60" y1="128.50" x2="714.40" y2="128.50" stroke="#8e8eee" stroke-width="1.25" stroke-linecap="butt"/>
<line x1="725.50" y1="126.50" x2="725.50" y2="150.50" stroke="#8e8eee" stroke-width="1.25" stroke-linecap="butt"/>
<line x1="721.60" y1="126.50" x2="729.40" y2="126.50" stroke="#8e8eee" stroke-width="1.25" stroke-linecap="butt"/>
<line x1="721.60" y1="150.50" x2="729.40" y2="150.50" stroke="#8e8eee" stroke-width="1.25" stroke-linecap="butt"/>
<line x1="737.50" y1="147.50" x2="737.50" y2="160.50" stroke="#8e8eee" stroke-width="1.25" stroke-linecap="butt"/>
<line x1="733.60" y1="147.50" x2="741.40" y2="147.50" stroke="#8e8eee" stroke-width="1.25" stroke-linecap="butt"/>
<line x1="733.60" y1="160.50" x2="741.40" y2="160.50" stroke="#8e8eee" stroke-width="1.25" stroke-linecap="butt"/>
<line x1="746.50" y1="141.50" x2="746.50" y2="178.50" stroke="#8e8eee" stroke-width="1.25" stroke-linecap="butt"/>
<line x1="742.60" y1="141.50" x2="750.40" y2="141.50" stroke="#8e8eee" stroke-width="1.25" stroke-linecap="butt"/>
<line x1="742.60" y1="178.50" x2="750.40" y2="178.50" stroke="#8e8eee" stroke-width="1.25" stroke-linecap="butt"/>
<line x1="761.50" y1="147.50" x2="761.50" y2="161.50" stroke="#8e8eee" stroke-width="1.25" stroke-linecap="butt"/>
<line x1="757.60" y1="147.50" x2="765.40" y2="147.50" stroke="#8e8eee" stroke-width="1.25" stroke-linecap="butt"/>
<line x1="757.60" y1="161.50" x2="765.40" y2="161.50" stroke="#8e8eee" stroke-width="1.25" stroke-linecap="butt"/>
<line x1="773.50" y1="93.50" x2="773.50" y2="123.50" stroke="#8e8eee" stroke-width="1.25" stroke-linecap="butt"/>
<line x1="769.60" y1="93.50" x2="777.40" y2="93.50" stroke="#8e8eee" stroke-width="1.25" stroke-linecap="butt"/>
<line x1="769.60" y1="123.50" x2="777.40" y2="123.50" stroke="#8e8eee" stroke-width="1.25" stroke-linecap="butt"/>
<line x1="821.50" y1="92.50" x2="821.50" y2="125.50" stroke="#8e8eee" stroke-width="1.25" stroke-linecap="butt"/>
<line x1="817.60" y1="92.50" x2="825.40" y2="92.50" stroke="#8e8eee" stroke-width="1.25" stroke-linecap="butt"/>
<line x1="817.60" y1="125.50" x2="825.40" y2="125.50" stroke="#8e8eee" stroke-width="1.25" stroke-linecap="butt"/>
<line x1="857.50" y1="118.50" x2="857.50" y2="139.50" stroke="#8e8eee" stroke-width="1.25" stroke-linecap="butt"/>
<line x1="853.60" y1="118.50" x2="861.40" y2="118.50" stroke="#8e8eee" stroke-width="1.25" stroke-linecap="butt"/>
<line x1="853.60" y1="139.50" x2="861.40" y2="139.50" stroke="#8e8eee" stroke-width="1.25" stroke-linecap="butt"/>
<line x1="893.50" y1="114.50" x2="893.50" y2="149.50" stroke="#8e8eee" stroke-width="1.25" stroke-linecap="butt"/>
<line x1="889.60" y1="114.50" x2="897.40" y2="114.50" stroke="#8e8eee" stroke-width="1.25" stroke-linecap="butt"/>
<line x1="889.60" y1="149.50" x2="897.40" y2="149.50" stroke="#8e8eee" stroke-width="1.25" stroke-linecap="butt"/>
<line x1="930.50" y1="108.50" x2="930.50" y2="140.50" stroke="#8e8eee" stroke-width="1.25" stroke-linecap="butt"/>
<line x1="926.60" y1="108.50" x2="934.40" y2="108.50" stroke="#8e8eee" stroke-width="1.25" stroke-linecap="butt"/>
<line x1="926.60" y1="140.50" x2="934.40" y2="140.50" stroke="#8e8eee" stroke-width="1.25" stroke-linecap="butt"/>
<line x1="951.50" y1="95.50" x2="951.50" y2="117.50" stroke="#8e8eee" stroke-width="1.25" stroke-linecap="butt"/>
<line x1="947.60" y1="95.50" x2="955.40" y2="95.50" stroke="#8e8eee" stroke-width="1.25" stroke-linecap="butt"/>
<line x1="947.60" y1="117.50" x2="955.40" y2="117.50" stroke="#8e8eee" stroke-width="1.25" stroke-linecap="butt"/>
<line x1="966.50" y1="103.50" x2="966.50" y2="132.50" stroke="#8e8eee" stroke-width="1.25" stroke-linecap="butt"/>
<line x1="962.60" y1="103.50" x2="970.40" y2="103.50" stroke="#8e8eee" stroke-width="1.25" stroke-linecap="butt"/>
<line x1="962.60" y1="132.50" x2="970.40" y2="132.50" stroke="#8e8eee" stroke-width="1.25" stroke-linecap="butt"/>
<line x1="977.50" y1="112.50" x2="977.50" y2="144.50" stroke="#8e8eee" stroke-width="1.25" stroke-linecap="butt"/>
<line x1="973.60" y1="112.50" x2="981.40" y2="112.50" stroke="#8e8eee" stroke-width="1.25" stroke-linecap="butt"/>
<line x1="973.60" y1="144.50" x2="981.40" y2="144.50" stroke="#8e8eee" stroke-width="1.25" stroke-linecap="butt"/>
<line x1="987.50" y1="118.50" x2="987.50" y2="127.50" stroke="#8e8eee" stroke-width="1.25" stroke-linecap="butt"/>
<line x1="983.60" y1="118.50" x2="991.40" y2="118.50" stroke="#8e8eee" stroke-width="1.25" stroke-linecap="butt"/>
<line x1="983.60" y1="127.50" x2="991.40" y2="127.50" stroke="#8e8eee" stroke-width="1.25" stroke-linecap="butt"/>
<line x1="999.50" y1="113.50" x2="999.50" y2="131.50" stroke="#8e8eee" stroke-width="1.25" stroke-linecap="butt"/>
<line x1="995.60" y1="113.50" x2="1003.40" y2="113.50" stroke="#8e8eee" stroke-width="1.25" stroke-linecap="butt"/>
<line x1="995.60" y1="131.50" x2="1003.40" y2="131.50" stroke="#8e8eee" stroke-width="1.25" stroke-linecap="butt"/>
<line x1="1008.50" y1="117.50" x2="1008.50" y2="145.50" stroke="#8e8eee" stroke-width="1.25" stroke-linecap="butt"/>
<line x1="1004.60" y1="117.50" x2="1012.40" y2="117.50" stroke="#8e8eee" stroke-width="1.25" stroke-linecap="butt"/>
<line x1="1004.60" y1="145.50" x2="1012.40" y2="145.50" stroke="#8e8eee" stroke-width="1.25" stroke-linecap="butt"/>
<line x1="1014.50" y1="131.50" x2="1014.50" y2="143.50" stroke="#8e8eee" stroke-width="1.25" stroke-linecap="butt"/>
<line x1="1010.60" y1="131.50" x2="1018.40" y2="131.50" stroke="#8e8eee" stroke-width="1.25" stroke-linecap="butt"/>
<line x1="1010.60" y1="143.50" x2="1018.40" y2="143.50" stroke="#8e8eee" stroke-width="1.25" stroke-linecap="butt"/>
<rect x="623.70" y="76.50" width="6.60" height="6.60" fill="#0000ff"/>
<rect x="649.71" y="97.90" width="6.60" height="6.60" fill="#0000ff"/>
<rect x="685.96" y="113.80" width="6.60" height="6.60" fill="#0000ff"/>
<rect x="707.16" y="113.80" width="6.60" height="6.60" fill="#0000ff"/>
<rect x="722.20" y="135.10" width="6.60" height="6.60" fill="#0000ff"/>
<rect x="733.87" y="150.60" width="6.60" height="6.60" fill="#0000ff"/>
<rect x="743.40" y="156.60" width="6.60" height="6.60" fill="#0000ff"/>
<rect x="758.45" y="151.00" width="6.60" height="6.60" fill="#0000ff"/>
<rect x="770.11" y="104.90" width="6.60" height="6.60" fill="#0000ff"/>
<rect x="818.03" y="105.40" width="6.60" height="6.60" fill="#0000ff"/>
<rect x="854.27" y="125.60" width="6.60" height="6.60" fill="#0000ff"/>
<rect x="890.51" y="128.50" width="6.60" height="6.60" fill="#0000ff"/>
<rect x="926.76" y="121.10" width="6.60" height="6.60" fill="#0000ff"/>
<rect x="947.96" y="103.30" width="6.60" height="6.60" fill="#0000ff"/>
<rect x="963.00" y="114.60" width="6.60" height="6.60" fill="#0000ff"/>
<rect x="974.67" y="124.90" width="6.60" height="6.60" fill="#0000ff"/>
<rect x="984.20" y="119.80" width="6.60" height="6.60" fill="#0000ff"/>
<rect x="995.87" y="119.20" width="6.60" height="6.60" fill="#0000ff"/>
<rect x="1005.40" y="128.50" width="6.60" height="6.60" fill="#0000ff"/>
<rect x="1010.91" y="134.00" width="6.60" height="6.60" fill="#0000ff"/>
<line x1="626.70" y1="129.28" x2="630.50" y2="129.28" stroke="#ff0000" stroke-width="2" stroke-linecap="butt"/>
<polyline points="638.00,129.29 639.26,129.29 640.51,129.29 641.77,129.29 643.02,129.29 644.28,129.29 645.53,129.29 646.79,129.29 648.04,129.29 649.30,129.29 650.55,129.29 651.81,129.29 653.06,129.30 654.32,129.30 655.57,129.30 656.83,129.30 658.09,129.30 659.34,129.30 660.60,129.30 661.85,129.30 663.11,129.30 664.36,129.30 665.62,129.30 666.87,129.30 668.13,129.30 669.38,129.30 670.64,129.30 671.89,129.30 673.15,129.30 674.40,129.30 675.66,129.30 676.92,129.30 678.17,129.30 679.43,129.30 680.68,129.30 681.94,129.30 683.19,129.30 684.45,129.31 685.70,129.31 686.96,129.31 688.21,129.31 689.47,129.31 690.72,129.31 691.98,129.31 693.23,129.31 694.49,129.31 695.75,129.31 697.00,129.31 698.26,129.31 699.51,129.31 700.77,129.31 702.02,129.31 703.28,129.32 704.53,129.32 705.79,129.32 707.04,129.32 708.30,129.32 709.55,129.32 710.81,129.32 712.06,129.32 713.32,129.32 714.58,129.32 715.83,129.32 717.09,129.33 718.34,129.33 719.60,129.33 720.85,129.33 722.11,129.33 723.36,129.33 724.62,129.33 725.87,129.33 727.13,129.33 728.38,129.34 729.64,129.34 730.89,129.34 732.15,129.34 733.41,129.34 734.66,129.34 735.92,129.34 737.17,129.35 738.43,129.35 739.68,129.35 740.94,129.35 742.19,129.35 743.45,129.35 744.70,129.35 745.96,129.36 747.21,129.36 748.47,129.36 749.72,129.36 750.98,129.36 752.24,129.37 753.49,129.37 754.75,129.37 756.00,129.37 757.26,129.37 758.51,129.38 759.77,129.38 761.02,129.38 762.28,129.38 763.53,129.39 764.79,129.39 766.04,129.39 767.30,129.39 768.55,129.40 769.81,129.40 771.07,129.40 772.32,129.41 773.58,129.41 774.83,129.41 776.09,129.42 777.34,129.42 778.60,129.42 779.85,129.43 781.11,129.43 782.36,129.43 783.62,129.44 784.87,129.44 786.13,129.44 787.38,129.45 788.64,129.45 789.90,129.46 791.15,129.46 792.41,129.46 793.66,129.47 794.92,129.47 796.17,129.48 797.43,129.48 798.68,129.49 799.94,129.49 801.19,129.50 802.45,129.50 803.70,129.51 804.96,129.52 806.21,129.52 807.47,129.53 808.73,129.53 809.98,129.54 811.24,129.55 812.49,129.55 813.75,129.56 815.00,129.57 816.26,129.57 817.51,129.58 818.77,129.59 820.02,129.60 821.28,129.60 822.53,129.61 823.79,129.62 825.04,129.63 826.30,129.64 827.56,129.65 828.81,129.66 830.07,129.66 831.32,129.67 832.58,129.68 833.83,129.69 835.09,129.71 836.34,129.72 837.60,129.73 838.85,129.74 840.11,129.75 841.36,129.76 842.62,129.77 843.87,129.79 845.13,129.80 846.39,129.81 847.64,129.83 848.90,129.84 850.15,129.86 851.41,129.87 852.66,129.89 853.92,129.90 855.17,129.92 856.43,129.93 857.68,129.95 858.94,129.97 860.19,129.99 861.45,130.00 862.70,130.02 863.96,130.04 865.22,130.06 866.47,130.08 867.73,130.10 868.98,130.13 870.24,130.15 871.49,130.17 872.75,130.20 874.00,130.22 875.26,130.25 876.51,130.27 877.77,130.30 879.02,130.32 880.28,130.35 881.53,130.38 882.79,130.41 884.05,130.44 885.30,130.47 886.56,130.51 887.81,130.54 889.07,130.58 890.32,130.61 891.58,130.65 892.83,130.69 894.09,130.73 895.34,130.77 896.60,130.81 897.85,130.85 899.11,130.90 900.36,130.94 901.62,130.99 902.88,131.04 904.13,131.09 905.39,131.14 906.64,131.19 907.90,131.25 909.15,131.31 910.41,131.37 911.66,131.43 912.92,131.49 914.17,131.56 915.43,131.62 916.68,131.70 917.94,131.77 919.19,131.84 920.45,131.92 921.71,132.00 922.96,132.09 924.22,132.17 925.47,132.26 926.73,132.36 927.98,132.45 929.24,132.55 930.49,132.66 931.75,132.77 933.00,132.88 934.26,133.00 935.51,133.12 936.77,133.25 938.02,133.38 939.28,133.51 940.54,133.66 941.79,133.81 943.05,133.96 944.30,134.12 945.56,134.29 946.81,134.47 948.07,134.65 949.32,134.84 950.58,135.04 951.83,135.25 953.09,135.47 954.34,135.70 955.60,135.94 956.85,136.19 958.11,136.45 959.37,136.72 960.62,137.01 961.88,137.32 963.13,137.63 964.39,137.97 965.64,138.32 966.90,138.69 968.15,139.08 969.41,139.49 970.66,139.93 971.92,140.38 973.17,140.87 974.43,141.38 975.68,141.91 976.94,142.48 978.20,143.09 979.45,143.73 980.71,144.41 981.96,145.13 983.22,145.90 984.47,146.71 985.73,147.58 986.98,148.51 988.24,149.49 989.49,150.55 990.75,151.67 992.00,152.88 993.26,154.17 994.51,155.55 995.77,157.04 997.03,158.63 998.28,160.35 999.54,162.20 1000.79,164.19 1002.05,166.34 1003.30,168.67 1004.56,171.19 1005.81,173.92 1007.07,176.88 1008.32,180.11 1009.58,183.61 1010.83,187.44 1012.09,191.61 1013.34,196.18 1014.60,201.18" fill="none" stroke="#ff0000" stroke-width="2"/>
<line x1="626.70" y1="131.89" x2="630.50" y2="131.89" stroke="#0000ff" stroke-width="2" stroke-linecap="butt"/>
<polyline points="638.00,131.88 639.26,131.88 640.51,131.88 641.77,131.88 643.02,131.88 644.28,131.88 645.53,131.88 646.79,131.88 648.04,131.88 649.30,131.88 650.55,131.88 651.81,131.88 653.06,131.88 654.32,131.88 655.57,131.88 656.83,131.88 658.09,131.88 659.34,131.88 660.60,131.88 661.85,131.88 663.11,131.88 664.36,131.88 665.62,131.88 666.87,131.88 668.13,131.88 669.38,131.88 670.64,131.88 671.89,131.88 673.15,131.88 674.40,131.88 675.66,131.88 676.92,131.88 678.17,131.88 679.43,131.88 680.68,131.88 681.94,131.88 683.19,131.88 684.45,131.88 685.70,131.88 686.96,131.88 688.21,131.88 689.47,131.88 690.72,131.88 691.98,131.88 693.23,131.88 694.49,131.88 695.75,131.88 697.00,131.88 698.26,131.88 699.51,131.88 700.77,131.88 702.02,131.88 703.28,131.88 704.53,131.88 705.79,131.88 707.04,131.88 708.30,131.87 709.55,131.87 710.81,131.87 712.06,131.87 713.32,131.87 714.58,131.87 715.83,131.87 717.09,131.87 718.34,131.87 719.60,131.87 720.85,131.87 722.11,131.87 723.36,131.87 724.62,131.87 725.87,131.87 727.13,131.87 728.38,131.87 729.64,131.87 730.89,131.87 732.15,131.87 733.41,131.87 734.66,131.87 735.92,131.87 737.17,131.87 738.43,131.87 739.68,131.86 740.94,131.86 742.19,131.86 743.45,131.86 744.70,131.86 745.96,131.86 747.21,131.86 748.47,131.86 749.72,131.86 750.98,131.86 752.24,131.86 753.49,131.86 754.75,131.86 756.00,131.86 757.26,131.86 758.51,131.86 759.77,131.85 761.02,131.85 762.28,131.85 763.53,131.85 764.79,131.85 766.04,131.85 767.30,131.85 768.55,131.85 769.81,131.85 771.07,131.85 772.32,131.85 773.58,131.84 774.83,131.84 776.09,131.84 777.34,131.84 778.60,131.84 779.85,131.84 781.11,131.84 782.36,131.84 783.62,131.84 784.87,131.83 786.13,131.83 787.38,131.83 788.64,131.83 789.90,131.83 791.15,131.83 792.41,131.83 793.66,131.82 794.92,131.82 796.17,131.82 797.43,131.82 798.68,131.82 799.94,131.82 801.19,131.81 802.45,131.81 803.70,131.81 804.96,131.81 806.21,131.81 807.47,131.81 808.73,131.80 809.98,131.80 811.24,131.80 812.49,131.80 813.75,131.80 815.00,131.79 816.26,131.79 817.51,131.79 818.77,131.79 820.02,131.78 821.28,131.78 822.53,131.78 823.79,131.78 825.04,131.77 826.30,131.77 827.56,131.77 828.81,131.76 830.07,131.76 831.32,131.76 832.58,131.76 833.83,131.75 835.09,131.75 836.34,131.75 837.60,131.74 838.85,131.74 840.11,131.73 841.36,131.73 842.62,131.73 843.87,131.72 845.13,131.72 846.39,131.72 847.64,131.71 848.90,131.71 850.15,131.70 851.41,131.70 852.66,131.69 853.92,131.69 855.17,131.68 856.43,131.68 857.68,131.67 858.94,131.67 860.19,131.66 861.45,131.66 862.70,131.65 863.96,131.65 865.22,131.64 866.47,131.63 867.73,131.63 868.98,131.62 870.24,131.62 871.49,131.61 872.75,131.60 874.00,131.60 875.26,131.59 876.51,131.58 877.77,131.57 879.02,131.57 880.28,131.56 881.53,131.55 882.79,131.54 884.05,131.53 885.30,131.53 886.56,131.52 887.81,131.51 889.07,131.50 890.32,131.49 891.58,131.48 892.83,131.47 894.09,131.46 895.34,131.45 896.60,131.44 897.85,131.43 899.11,131.42 900.36,131.41 901.62,131.39 902.88,131.38 904.13,131.37 905.39,131.36 906.64,131.34 907.90,131.33 909.15,131.32 910.41,131.30 911.66,131.29 912.92,131.27 914.17,131.26 915.43,131.24 916.68,131.23 917.94,131.21 919.19,131.20 920.45,131.18 921.71,131.16 922.96,131.14 924.22,131.13 925.47,131.11 926.73,131.09 927.98,131.07 929.24,131.05 930.49,131.03 931.75,131.01 933.00,130.99 934.26,130.97 935.51,130.94 936.77,130.92 938.02,130.90 939.28,130.87 940.54,130.85 941.79,130.82 943.05,130.80 944.30,130.77 945.56,130.74 946.81,130.72 948.07,130.69 949.32,130.66 950.58,130.63 951.83,130.60 953.09,130.57 954.34,130.53 955.60,130.50 956.85,130.47 958.11,130.43 959.37,130.40 960.62,130.36 961.88,130.32 963.13,130.29 964.39,130.25 965.64,130.21 966.90,130.17 968.15,130.12 969.41,130.08 970.66,130.04 971.92,129.99 973.17,129.95 974.43,129.90 975.68,129.85 976.94,129.80 978.20,129.75 979.45,129.70 980.71,129.65 981.96,129.59 983.22,129.54 984.47,129.48 985.73,129.42 986.98,129.36 988.24,129.30 989.49,129.24 990.75,129.17 992.00,129.11 993.26,129.04 994.51,128.97 995.77,128.90 997.03,128.83 998.28,128.75 999.54,128.68 1000.79,128.60 1002.05,128.52 1003.30,128.44 1004.56,128.35 1005.81,128.27 1007.07,128.18 1008.32,128.09 1009.58,128.00 1010.83,127.90 1012.09,127.80 1013.34,127.71 1014.60,127.60" fill="none" stroke="#0000ff" stroke-width="2"/>
</g>
<!-- legend A -->
<line x1="266.3" y1="26" x2="266.3" y2="71.6" stroke="#707070" stroke-width="1.3"/>
<line x1="266" y1="26.6" x2="500.9" y2="26.6" stroke="#111" stroke-width="1.2"/>
<line x1="499.9" y1="26" x2="499.9" y2="71.6" stroke="#222" stroke-width="1.3"/>
<line x1="265.6" y1="70.9" x2="500" y2="70.9" stroke="#707070" stroke-width="1.3"/>
<rect x="284.5" y="36" width="6.4" height="6.4" fill="#ff0000"/>
<rect x="284.2" y="56.4" width="6.8" height="6.8" fill="#0000ff"/>
<line x1="790.1" y1="26" x2="790.1" y2="70.4" stroke="#888" stroke-width="1.3"/>
<line x1="790" y1="26.8" x2="1021.3" y2="26.8" stroke="#111" stroke-width="1.2"/>
<line x1="789.4" y1="69.9" x2="1020" y2="69.9" stroke="#777" stroke-width="1.2"/>
<rect x="807.3" y="36.7" width="6.4" height="6.4" fill="#ff0000"/>
<rect x="807" y="57" width="6.8" height="6.8" fill="#0000ff"/>
<g class="gt">
<text x="311.3" y="45" font-size="17">PMA-coated Au NPs</text>
<text x="311.3" y="65.6" font-size="17">Collagen-coated Au NPs</text>
<!-- legend B -->
<text x="834" y="45" font-size="17">PMA-coated Au Nps</text>
<text x="834" y="65.6" font-size="17">Collagen-coated Au NPs</text>
<!-- labels A -->
<text x="42.5" y="20.1" font-size="24">A</text>
<text x="563" y="25.6" font-size="25.3">B</text>
<text x="24.93" y="81.00" font-size="20">100</text>
<text x="36.05" y="178.50" font-size="20">80</text>
<text x="36.05" y="276.10" font-size="20">60</text>
<text x="547.23" y="85.90" font-size="20">100</text>
<text x="558.35" y="192.20" font-size="20">80</text>
<text x="558.35" y="298.50" font-size="20">60</text>
<text x="51.77" y="369.70" font-size="20">-0.5</text>
<text x="90.60" y="369.70" font-size="20">0.0</text>
<text x="202.10" y="369.70" font-size="20">1.0</text>
<text x="317.74" y="369.70" font-size="20">10.0</text>
<text x="432.58" y="369.70" font-size="20">100.0</text>
<text x="574.27" y="372.00" font-size="20">-0.5</text>
<text x="613.10" y="372.00" font-size="20">0.0</text>
<text x="723.80" y="372.00" font-size="20">1.0</text>
<text x="838.84" y="372.00" font-size="20">10.0</text>
<text x="953.58" y="372.00" font-size="20">100.0</text>
<rect x="25.42" y="78.66" width="4.37" height="3.54" fill="#fff"/>
<rect x="31.90" y="78.66" width="3.87" height="3.54" fill="#fff"/>
<rect x="547.72" y="83.56" width="4.37" height="3.54" fill="#fff"/>
<rect x="554.20" y="83.56" width="3.87" height="3.54" fill="#fff"/>
<rect x="202.59" y="367.36" width="4.37" height="3.54" fill="#fff"/>
<rect x="209.07" y="367.36" width="3.87" height="3.54" fill="#fff"/>
<rect x="318.23" y="367.36" width="4.37" height="3.54" fill="#fff"/>
<rect x="324.71" y="367.36" width="3.87" height="3.54" fill="#fff"/>
<rect x="433.06" y="367.36" width="4.37" height="3.54" fill="#fff"/>
<rect x="439.55" y="367.36" width="3.87" height="3.54" fill="#fff"/>
<rect x="724.29" y="369.66" width="4.37" height="3.54" fill="#fff"/>
<rect x="730.77" y="369.66" width="3.87" height="3.54" fill="#fff"/>
<rect x="839.33" y="369.66" width="4.37" height="3.54" fill="#fff"/>
<rect x="845.81" y="369.66" width="3.87" height="3.54" fill="#fff"/>
<rect x="954.06" y="369.66" width="4.37" height="3.54" fill="#fff"/>
<rect x="960.55" y="369.66" width="3.87" height="3.54" fill="#fff"/>
<text x="284.5" y="403.1" font-size="21.8" text-anchor="middle">c(NP) (nM)</text>
<text x="805.7" y="407" font-size="21.8" text-anchor="middle">c(NP) (nM)</text>
<text transform="translate(17,185.3) rotate(-90)" font-size="20.2" text-anchor="middle">V (%)</text>
<text transform="translate(539.4,186.5) rotate(-90)" font-size="22.4" text-anchor="middle">V (%)</text>
</g>
</svg>
</body></html>
